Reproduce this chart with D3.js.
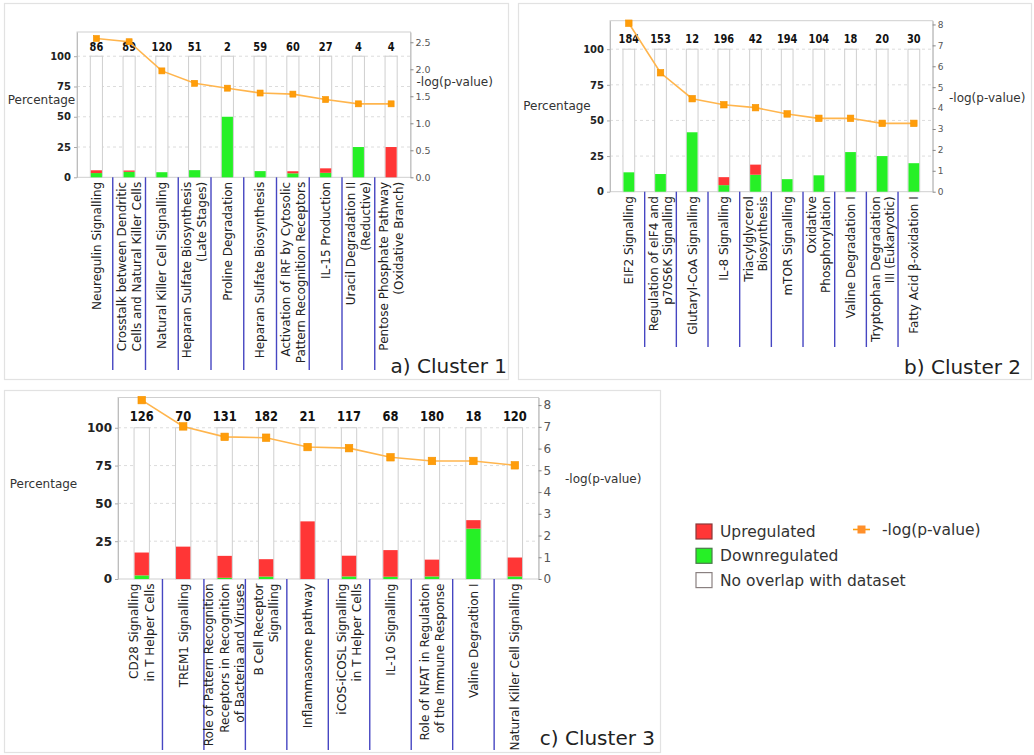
<!DOCTYPE html>
<html>
<head>
<meta charset="utf-8">
<script src="https://cdn.jsdelivr.net/npm/d3@7/dist/d3.min.js"></script>
<style>
  html, body { margin: 0; padding: 0; background: #fff; }
  svg { display: block; }
  text { font-family: "DejaVu Sans", Verdana, sans-serif; }
</style>
</head>
<body>
<svg id="chart" width="1034" height="755"></svg>
<script>
// ---- Cluster 1 ----
const cluster1Pathways = [
  "Neuregulin Signalling",
  "Crosstalk between Dendritic\nCells and Natural Killer Cells",
  "Natural Killer Cell Signalling",
  "Heparan Sulfate Biosynthesis\n(Late Stages)",
  "Proline Degradation",
  "Heparan Sulfate Biosynthesis",
  "Activation of IRF by Cytosolic\nPattern Recognition Receptors",
  "IL-15 Production",
  "Uracil Degradation II\n(Reductive)",
  "Pentose Phosphate Pathway\n(Oxidative Branch)"
];
const cluster1Counts = [86, 89, 120, 51, 2, 59, 60, 27, 4, 4];
const cluster1Down = [3.5, 4.5, 4.2, 5.9, 50, 5.1, 3.3, 3.7, 25, 0];
const cluster1Up = [2.3, 1.1, 0, 0, 0, 0, 1.7, 3.7, 0, 25];
const cluster1LogP = [2.57, 2.51, 1.97, 1.74, 1.65, 1.56, 1.54, 1.44, 1.36, 1.36];
const cluster1LogTicks = [0, 0.5, 1, 1.5, 2, 2.5];

// ---- Cluster 2 ----
const cluster2Pathways = [
  "EIF2 Signalling",
  "Regulation of eIF4 and\np70S6K Signalling",
  "Glutaryl-CoA Signalling",
  "IL-8 Signalling",
  "Triacylglycerol\nBiosynthesis",
  "mTOR Signalling",
  "Oxidative\nPhosphorylation",
  "Valine Degradation I",
  "Tryptophan Degradation\nIII (Eukaryotic)",
  "Fatty Acid β-oxidation I"
];
const cluster2Counts = [184, 153, 12, 196, 42, 194, 104, 18, 20, 30];
const cluster2Down = [13.6, 12.4, 41.7, 4.6, 11.9, 8.8, 11.5, 27.8, 25, 20];
const cluster2Up = [0, 0, 0, 5.6, 7.1, 0, 0, 0, 0, 0];
const cluster2LogP = [8.06, 5.69, 4.45, 4.16, 4.02, 3.72, 3.51, 3.51, 3.27, 3.27];
const cluster2LogTicks = [0, 1, 2, 3, 4, 5, 6, 7, 8];

// ---- Cluster 3 ----
const cluster3Pathways = [
  "CD28 Signalling\nin T Helper Cells",
  "TREM1 Signalling",
  "Role of Pattern Recognition\nReceptors in Recognition\nof Bacteria and Viruses",
  "B Cell Receptor\nSignalling",
  "Inflammasome pathway",
  "iCOS-iCOSL Signalling\nin T Helper Cells",
  "IL-10 Signalling",
  "Role of NFAT in Regulation\nof the Immune Response",
  "Valine Degradtion I",
  "Natural Killer Cell Signalling"
];
const cluster3Counts = [126, 70, 131, 182, 21, 117, 68, 180, 18, 120];
const cluster3Down = [2.4, 0, 0.8, 1.6, 0, 1.7, 1.5, 1.7, 33.3, 1.7];
const cluster3Up = [15.1, 21.4, 14.5, 11.5, 38.1, 13.7, 17.6, 11.1, 5.6, 12.5];
const cluster3LogP = [8.23, 7.02, 6.54, 6.50, 6.07, 6.02, 5.60, 5.43, 5.43, 5.23];
const cluster3LogTicks = [0, 1, 2, 3, 4, 5, 6, 7, 8];

const percentTicks = [0, 25, 50, 75, 100];
const legendItems = ["Upregulated", "Downregulated", "No overlap with dataset"];
const lineLegendLabel = "-log(p-value)";

// colours
const RED = "#ff3636";
const GREEN = "#26f026";
const ORANGE_LINE = "#ffb54d";
const ORANGE_MARK = "#ff9d0a";
const SEP_BLUE = "#4646c2";

// panel layout (pixel geometry) + which data each panel uses
const panels = [
  {
    title: "a) Cluster 1",
    pathways: cluster1Pathways, counts: cluster1Counts, down: cluster1Down, up: cluster1Up,
    logp: cluster1LogP, logTicks: cluster1LogTicks, logFmt: d3.format(".1f"),
    box: [4, 3, 508, 379],
    plot: { l: 77, r: 410.5, t: 32, b: 177.3 },
    pctMax: 120, logMax: 2.69,
    countY: 46.7, countFont: 12, tickFont: 10, rTickFont: 9.5, marker: 6,
    pctLabel: [41.5, 100], logLabel: [416.5, 82],
    sepEnd: 370, lineH: 15, labelFont: 12,
    titlePos: [507, 373]
  },
  {
    title: "b) Cluster 2",
    pathways: cluster2Pathways, counts: cluster2Counts, down: cluster2Down, up: cluster2Up,
    logp: cluster2LogP, logTicks: cluster2LogTicks, logFmt: d3.format("d"),
    box: [518, 3, 1031, 379],
    plot: { l: 610, r: 932.7, t: 20.7, b: 191.7 },
    pctMax: 120, logMax: 8.18,
    countY: 38.3, countFont: 12, tickFont: 10, rTickFont: 9, marker: 6.5,
    pctLabel: [557, 106], logLabel: [949, 98],
    sepEnd: 347, lineH: 14, labelFont: 12,
    titlePos: [1021, 374]
  },
  {
    title: "c) Cluster 3",
    pathways: cluster3Pathways, counts: cluster3Counts, down: cluster3Down, up: cluster3Up,
    logp: cluster3LogP, logTicks: cluster3LogTicks, logFmt: d3.format("d"),
    box: [4, 390, 660, 752],
    plot: { l: 118, r: 538.6, t: 397.5, b: 579 },
    pctMax: 120, logMax: 8.35,
    countY: 415.7, countFont: 14, tickFont: 12, rTickFont: 12, marker: 7.5,
    pctLabel: [43.5, 483.3], logLabel: [565, 479],
    sepEnd: 750, lineH: 15.5, labelFont: 12,
    titlePos: [655, 745]
  }
];

const svg = d3.select("#chart");

panels.forEach(p => drawPanel(svg.append("g"), p));
drawLegend(svg.append("g"));

function drawPanel(g, p) {
  const { l, r, t, b } = p.plot;
  const n = p.pathways.length;

  // panel frame
  g.append("rect")
    .attr("x", p.box[0] + 0.5).attr("y", p.box[1] + 0.5)
    .attr("width", p.box[2] - p.box[0]).attr("height", p.box[3] - p.box[1])
    .attr("fill", "#fff").attr("stroke", "#e2e2e2").attr("stroke-width", 1.2);

  const x = d3.scaleBand().domain(d3.range(n)).range([l + 3, r - 3]);
  const yPct = d3.scaleLinear().domain([0, p.pctMax]).range([b, t]);
  const yLog = d3.scaleLinear().domain([0, p.logMax]).range([b, t]);
  const barW = x.step() * 0.37;
  const cx = i => x(i) + x.bandwidth() / 2;

  // dashed grid
  g.append("g").selectAll("line")
    .data(percentTicks.filter(v => v > 0))
    .join("line")
    .attr("x1", l).attr("x2", r)
    .attr("y1", d => yPct(d)).attr("y2", d => yPct(d))
    .attr("stroke", "#dcdcdc").attr("stroke-dasharray", "3,3");

  // plot border
  g.append("rect")
    .attr("x", l).attr("y", t).attr("width", r - l).attr("height", b - t)
    .attr("fill", "none").attr("stroke", "#cfcfcf");

  // left axis (percentage)
  const axL = g.append("g").attr("transform", `translate(${l},0)`)
    .call(d3.axisLeft(yPct).tickValues(percentTicks).tickSize(3).tickSizeOuter(0).tickPadding(3));
  axL.select(".domain").attr("stroke", "#bdbdbd");
  axL.selectAll(".tick line").attr("stroke", "#aaa");
  axL.selectAll(".tick text")
    .attr("font-family", "'Liberation Sans', Arial, sans-serif")
    .attr("font-weight", "bold").attr("font-size", p.tickFont).attr("fill", "#222");

  // right axis (-log p)
  const axR = g.append("g").attr("transform", `translate(${r},0)`)
    .call(d3.axisRight(yLog).tickValues(p.logTicks).tickFormat(p.logFmt)
      .tickSize(3).tickSizeOuter(0).tickPadding(2));
  axR.select(".domain").attr("stroke", "#bdbdbd");
  axR.selectAll(".tick line").attr("stroke", "#888");
  axR.selectAll(".tick text")
    .attr("font-family", "'DejaVu Sans', Verdana, sans-serif")
    .attr("font-size", p.rTickFont).attr("fill", "#555");

  // bars: full 100% outline, green (down) at bottom, red (up) stacked on top
  const bars = g.append("g").selectAll("g").data(d3.range(n)).join("g");
  bars.append("rect")
    .attr("x", i => cx(i) - barW / 2).attr("y", yPct(100))
    .attr("width", barW).attr("height", yPct(0) - yPct(100))
    .attr("fill", "#fff").attr("stroke", "#cfcfcf");
  bars.append("rect")
    .attr("x", i => cx(i) - barW / 2 + 0.5)
    .attr("y", i => yPct(p.down[i]))
    .attr("width", barW - 1)
    .attr("height", i => yPct(0) - yPct(p.down[i]))
    .attr("fill", GREEN);
  bars.append("rect")
    .attr("x", i => cx(i) - barW / 2 + 0.5)
    .attr("y", i => yPct(p.down[i] + p.up[i]))
    .attr("width", barW - 1)
    .attr("height", i => yPct(p.down[i]) - yPct(p.down[i] + p.up[i]))
    .attr("fill", RED);

  // pathway size labels
  g.append("g").selectAll("text").data(d3.range(n)).join("text")
    .attr("transform", i => `translate(${cx(i)},${p.countY}) scale(0.82,1)`)
    .attr("text-anchor", "middle").attr("dy", "0.36em")
    .attr("font-family", "'Liberation Sans', Arial, sans-serif")
    .attr("font-weight", "bold").attr("font-size", p.countFont).attr("fill", "#111")
    .text(i => p.counts[i]);

  // -log(p) line with square markers
  const line = d3.line().x((d, i) => cx(i)).y(d => yLog(d));
  g.append("path").datum(p.logp)
    .attr("d", line).attr("fill", "none")
    .attr("stroke", ORANGE_LINE).attr("stroke-width", 1.6);
  g.append("g").selectAll("rect").data(p.logp).join("rect")
    .attr("x", (d, i) => cx(i) - p.marker / 2)
    .attr("y", d => yLog(d) - p.marker / 2)
    .attr("width", p.marker).attr("height", p.marker)
    .attr("fill", ORANGE_MARK).attr("stroke", "#f59300").attr("stroke-width", 0.6);

  // separators between category labels
  g.append("g").selectAll("line").data(d3.range(1, n)).join("line")
    .attr("x1", i => x(i)).attr("x2", i => x(i))
    .attr("y1", b).attr("y2", p.sepEnd)
    .attr("stroke", SEP_BLUE).attr("stroke-width", 1.4);

  // rotated category labels
  const labels = g.append("g").selectAll("text").data(d3.range(n)).join("text")
    .attr("transform", i => `translate(${cx(i)},${b + 4.5}) rotate(-90)`)
    .attr("text-anchor", "end")
    .attr("font-size", p.labelFont).attr("fill", "#222");
  labels.each(function (i) {
    const lines = p.pathways[i].split("\n");
    const k = lines.length;
    d3.select(this).selectAll("tspan").data(lines).join("tspan")
      .attr("x", 0)
      .attr("y", (d, j) => (j - (k - 1) / 2) * p.lineH)
      .attr("dy", "0.36em")
      .text(d => d);
  });

  // axis titles
  g.append("text")
    .attr("x", p.pctLabel[0]).attr("y", p.pctLabel[1]).attr("dy", "0.36em")
    .attr("text-anchor", "middle").attr("font-size", 12).attr("fill", "#333")
    .text("Percentage");
  g.append("text")
    .attr("x", p.logLabel[0]).attr("y", p.logLabel[1]).attr("dy", "0.36em")
    .attr("font-size", 12).attr("fill", "#333")
    .text("-log(p-value)");

  // panel title
  g.append("text")
    .attr("x", p.titlePos[0]).attr("y", p.titlePos[1])
    .attr("text-anchor", "end").attr("font-size", 20).attr("fill", "#222")
    .text(p.title);
}

function drawLegend(g) {
  const fills = [RED, GREEN, "#fff"];
  const strokes = ["#8a3a3a", "#4a7a4a", "#8a8080"];
  legendItems.forEach((label, i) => {
    const y = 524 + i * 24.3;
    g.append("rect")
      .attr("x", 696).attr("y", y).attr("width", 16).attr("height", 15)
      .attr("fill", fills[i]).attr("stroke", strokes[i]).attr("stroke-width", 1.2);
    g.append("text")
      .attr("x", 720).attr("y", y + 7.5).attr("dy", "0.36em")
      .attr("font-size", 15.5).attr("fill", "#333")
      .text(label);
  });
  g.append("line")
    .attr("x1", 853).attr("x2", 870).attr("y1", 529.5).attr("y2", 529.5)
    .attr("stroke", ORANGE_MARK).attr("stroke-width", 1.6);
  g.append("rect")
    .attr("x", 857.5).attr("y", 525.5).attr("width", 8).attr("height", 8)
    .attr("fill", "#ff8f2a");
  g.append("text")
    .attr("x", 882).attr("y", 529.5).attr("dy", "0.36em")
    .attr("font-size", 15.5).attr("fill", "#333")
    .text(lineLegendLabel);
}
</script>
</body>
</html>
